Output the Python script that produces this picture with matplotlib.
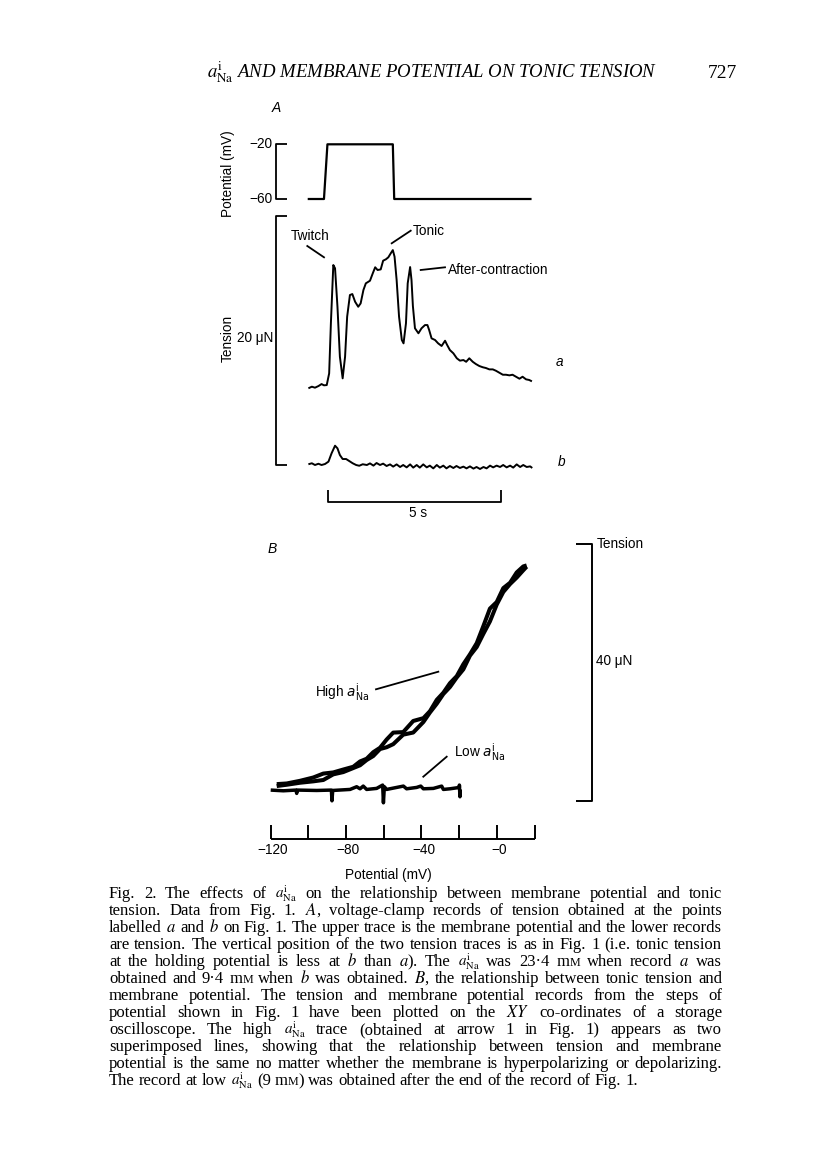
import matplotlib
matplotlib.use("Agg")
import matplotlib.pyplot as plt
from matplotlib.lines import Line2D

# ---------------- data ----------------
# Panel A: membrane potential step (time in s, potential in mV)
pot_time = [0.0, 0.47, 0.57, 2.46, 2.50, 6.47]
pot_mv = [-60, -60, -20, -20, -60, -60]

# Panel A: tension record a (time in s, tension in uN)
ta_time = [0.02, 0.12, 0.21, 0.31, 0.40, 0.47, 0.55, 0.62, 0.67, 0.74,
           0.79, 0.86, 0.93, 1.01, 1.08, 1.14, 1.22, 1.29, 1.37, 1.46,
           1.53, 1.61, 1.68, 1.80, 1.88, 1.95, 2.02, 2.11, 2.18, 2.26,
           2.33, 2.40, 2.46, 2.51, 2.57, 2.64, 2.72, 2.77, 2.84, 2.89,
           2.96, 3.00, 3.04, 3.10, 3.20, 3.29, 3.39, 3.46, 3.51, 3.58,
           3.68, 3.77, 3.87, 3.97, 4.03, 4.11, 4.21, 4.31, 4.40, 4.50,
           4.58, 4.67, 4.77, 4.86, 4.96, 5.06, 5.15, 5.25, 5.35, 5.44,
           5.54, 5.64, 5.73, 5.83, 5.92, 6.02, 6.12, 6.21, 6.31, 6.40,
           6.48]
ta_uN = [6.16, 6.29, 6.21, 6.34, 6.50, 6.40, 6.42, 7.36, 11.38, 16.06,
         15.80, 12.71, 8.70, 6.96, 8.70, 11.91, 13.65, 13.73, 13.11, 12.71,
         12.98, 14.05, 14.59, 14.80, 15.39, 15.88, 15.66, 15.71, 16.41, 16.52,
         16.68, 17.00, 17.26, 16.73, 14.86, 11.91, 10.04, 9.77, 11.38, 14.59,
         15.90, 14.86, 12.77, 10.98, 10.58, 10.98, 11.24, 11.24, 10.84, 10.17,
         10.04, 9.77, 9.56, 9.98, 9.64, 9.23, 8.97, 8.57, 8.38, 8.43,
         8.29, 8.57, 8.29, 8.11, 7.95, 7.85, 7.79, 7.68, 7.68, 7.57,
         7.41, 7.25, 7.25, 7.20, 7.25, 7.09, 6.93, 7.09, 6.88, 6.83,
         6.72]

# Panel A: tension record b
tb_time = [0.02, 0.12, 0.21, 0.31, 0.40, 0.50, 0.60, 0.69, 0.79, 0.86,
           0.93, 1.01, 1.11, 1.20, 1.30, 1.40, 1.49, 1.59, 1.71, 1.80,
           1.90, 1.99, 2.09, 2.18, 2.28, 2.38, 2.47, 2.57, 2.67, 2.76,
           2.86, 2.96, 3.05, 3.15, 3.24, 3.34, 3.44, 3.53, 3.63, 3.73,
           3.82, 3.92, 4.01, 4.11, 4.21, 4.30, 4.40, 4.50, 4.59, 4.69,
           4.79, 4.88, 4.98, 5.08, 5.17, 5.27, 5.36, 5.46, 5.56, 5.65,
           5.75, 5.85, 5.94, 6.04, 6.14, 6.23, 6.33, 6.43, 6.49]
tb_uN = [0.06, 0.14, 0.00, 0.10, 0.00, 0.08, 0.27, 0.94, 1.55, 1.34,
         0.80, 0.48, 0.48, 0.32, 0.14, 0.00, -0.06, 0.06, 0.00, 0.13,
         -0.05, 0.16, 0.00, 0.11, -0.08, 0.05, -0.13, 0.05, -0.16, 0.00,
         -0.19, 0.05, -0.21, 0.00, -0.21, 0.05, -0.19, -0.05, -0.27, 0.00,
         -0.21, -0.05, -0.27, -0.08, -0.24, -0.08, -0.24, -0.13, -0.27, -0.11,
         -0.29, -0.16, -0.32, -0.16, -0.27, -0.05, -0.19, -0.05, -0.16, 0.00,
         -0.19, -0.05, -0.21, 0.05, -0.16, 0.00, -0.16, -0.11, -0.24]

# Panel B: high a_Na, the two superimposed sweeps (potential mV, tension uN)
high_mv = [-116.8, -111.5, -104.5, -97.4, -92.1, -86.8, -81.5, -76.2, -72.6, -69.1,
           -65.6, -62.0, -58.5, -55.0, -49.7, -44.4, -39.0, -35.5, -31.9, -28.4,
           -24.9, -21.3, -17.8, -14.3, -10.7, -7.2, -3.7, -0.1, 3.4, 7.0,
           10.5, 14.0, 15.8]
high_dep_uN = [2.60, 2.70, 3.11, 3.63, 4.24, 4.42, 4.87, 5.30, 6.13, 6.55,
               7.57, 8.26, 9.54, 10.62, 10.70, 12.43, 12.87, 13.96, 15.72, 16.83,
               18.32, 19.41, 21.27, 22.80, 24.55, 27.19, 29.93, 30.95, 33.12, 33.96,
               35.56, 36.50, 36.66]
high_hyp_uN = [2.30, 2.50, 2.81, 3.03, 3.24, 4.12, 4.47, 5.10, 5.53, 6.35,
               6.97, 8.06, 8.34, 8.82, 10.30, 10.63, 12.27, 13.76, 15.12, 16.63,
               17.72, 19.21, 20.47, 22.60, 23.95, 25.99, 27.93, 30.55, 32.52, 33.76,
               34.76, 35.90, 36.46]

# Panel B: low a_Na
low_mv = [-120.0, -113.3, -106.6, -106.2, -105.9, -95.6, -87.8, -87.5, -87.1, -77.9,
          -74.4, -72.6, -70.9, -69.1, -63.8, -60.6, -60.2, -59.7, -58.5, -53.2,
          -49.6, -47.9, -42.6, -40.4, -39.0, -33.7, -29.3, -28.4, -24.9, -19.9,
          -19.9, -19.6, -19.6]
low_uN = [1.67, 1.56, 1.67, 1.15, 1.67, 1.61, 1.67, 0.00, 1.61, 1.77,
          2.19, 1.87, 2.29, 1.77, 1.93, 2.45, -0.31, 2.19, 1.77, 2.08,
          2.29, 1.87, 2.08, 2.29, 1.87, 1.93, 2.29, 1.77, 1.87, 2.08,
          2.45, 0.63, 1.77]

pot_ticks = [-120, -100, -80, -60, -40, -20, 0, 20]
pot_ticklabels = ["\u2212120", "", "\u221280", "", "\u221240", "", "\u22120", ""]

# scale bars (values)
potA_bar = [-60, -20]      # mV
tensA_bar = [0, 20]        # uN
time_bar = [0.59, 5.59]    # s  (5 s)
tensB_bar = [0, 40]        # uN

caption_lines = [
    r"Fig. 2. The effects of $a^{\mathrm{i}}_{\mathrm{Na}}$ on the relationship between membrane potential and tonic",
    r"tension. Data from Fig. 1. $\mathit{A}$, voltage-clamp records of tension obtained at the points",
    r"labelled $\mathit{a}$ and $\mathit{b}$ on Fig. 1. The upper trace is the membrane potential and the lower records",
    r"are tension. The vertical position of the two tension traces is as in Fig. 1 (i.e. tonic tension",
    r"at the holding potential is less at $\mathit{b}$ than $\mathit{a}$). The $a^{\mathrm{i}}_{\mathrm{Na}}$ was 23·4 mM when record $\mathit{a}$ was",
    r"obtained and 9·4 mM when $\mathit{b}$ was obtained. $\mathit{B}$, the relationship between tonic tension and",
    r"membrane potential. The tension and membrane potential records from the steps of",
    r"potential shown in Fig. 1 have been plotted on the $\mathit{XY}$ co-ordinates of a storage",
    r"oscilloscope. The high $a^{\mathrm{i}}_{\mathrm{Na}}$ trace (obtained at arrow 1 in Fig. 1) appears as two",
    r"superimposed lines, showing that the relationship between tension and membrane",
    r"potential is the same no matter whether the membrane is hyperpolarizing or depolarizing.",
    r"The record at low $a^{\mathrm{i}}_{\mathrm{Na}}$ (9 mM) was obtained after the end of the record of Fig. 1.",
]

# ---------------- layout helpers ----------------
W, H = 816, 1160
fig = plt.figure(figsize=(W / 100, H / 100), dpi=100)
fig.patch.set_facecolor("white")
SANS = "Liberation Sans"
SERIF = "Liberation Serif"
LFS = 9.8


def fx(x):
    return x / W


def fy(y):
    return 1 - y / H


def add_ax(left, top, right, bottom, xlim, ylim):
    ax = fig.add_axes([left / W, 1 - bottom / H, (right - left) / W, (bottom - top) / H])
    ax.set_xlim(*xlim)
    ax.set_ylim(*ylim)
    ax.axis("off")
    ax.patch.set_alpha(0)
    return ax


def ftext(x, y, s, **kw):
    kw.setdefault("family", SANS)
    kw.setdefault("fontsize", LFS)
    kw.setdefault("math_fontfamily", "dejavusans")
    return fig.text(fx(x), fy(y), s, **kw)


def fline(x1, y1, x2, y2, lw=1.3):
    fig.add_artist(Line2D([fx(x1), fx(x2)], [fy(y1), fy(y2)], transform=fig.transFigure,
                          color="black", lw=lw))


K = dict(color="black", clip_on=False, solid_joinstyle="round", solid_capstyle="butt")

# ---------------- Panel A ----------------
axV = add_ax(200, 115, 600, 215, (-3.113, 8.448), (-71.7, 1.43))
axT = add_ax(200, 210, 600, 530, (-3.113, 8.448), (-5.22, 20.48))

axV.plot(pot_time, pot_mv, lw=1.6, **K)
axT.plot(ta_time, ta_uN, lw=1.4, **K)
axT.plot(tb_time, tb_uN, lw=1.4, **K)

bar_t, tick_t = -0.916, -0.607
axV.plot([tick_t, bar_t, bar_t, tick_t], [potA_bar[1], potA_bar[1], potA_bar[0], potA_bar[0]], lw=1.3, **K)
axT.plot([tick_t, bar_t, bar_t, tick_t], [tensA_bar[1], tensA_bar[1], tensA_bar[0], tensA_bar[0]], lw=1.3, **K)
axT.plot([time_bar[0], time_bar[0], time_bar[1], time_bar[1]], [-2.0, -2.95, -2.95, -2.0], lw=1.3, **K)

ftext(276, 108, "A", style="italic", ha="center", va="center", fontsize=10)
ftext(228, 174, "Potential (mV)", rotation=90, ha="center", va="center")
axV.text(bar_t - 0.1, potA_bar[1], "\u221220", ha="right", va="center", family=SANS, fontsize=LFS)
axV.text(bar_t - 0.1, potA_bar[0], "\u221260", ha="right", va="center", family=SANS, fontsize=LFS)
ftext(228, 338, "Tension", rotation=90, ha="center", va="center")
ftext(273, 338, "20 \u03bcN", ha="right", va="center")
ftext(310, 236, "Twitch", ha="center", va="center")
fline(307.3, 246, 324, 257.3)
ftext(413, 231, "Tonic", ha="left", va="center")
fline(391.7, 243.3, 410.7, 230.7)
ftext(448, 269.5, "After-contraction", ha="left", va="center")
fline(420.7, 270, 445, 267.3)
ftext(560, 362, "a", style="italic", ha="center", va="center")
ftext(562, 462, "b", style="italic", ha="center", va="center")
ftext(418, 513, "5 s", ha="center", va="center")

# ---------------- Panel B ----------------
axB = add_ax(250, 530, 620, 890, (-130.98, 65.31), (-13.89, 42.17))
axB.plot(high_mv, high_dep_uN, lw=2.9, **K)
axB.plot(high_mv, high_hyp_uN, lw=2.9, **K)
axB.plot(low_mv, low_uN, lw=2.5, **K)

# potential axis drawn as a scale with ticks
base_T, tick_T = -6.01, -3.79
axB.plot([pot_ticks[0], pot_ticks[-1]], [base_T, base_T], lw=1.4, **K)
for v, lab in zip(pot_ticks, pot_ticklabels):
    axB.plot([v, v], [base_T, tick_T], lw=1.4, **K)
    if lab:
        axB.text(v + 1.0, -7.6, lab, ha="center", va="center", family=SANS, fontsize=LFS)
ftext(388, 875, "Potential (mV)", ha="center", va="center")

# tension scale bar
bx, btick = 50.3, 42.0
axB.plot([btick, bx, bx, btick], [tensB_bar[1], tensB_bar[1], tensB_bar[0], tensB_bar[0]], lw=1.4, **K)
ftext(597, 544, "Tension", ha="left", va="center")
ftext(596, 661, "40 \u03bcN", ha="left", va="center")

ftext(272, 549, "B", style="italic", ha="center", va="center", fontsize=10)
ftext(369, 697, r"High $a^{\mathrm{i}}_{\mathrm{Na}}$", ha="right", va="baseline")
fline(376, 689.3, 438.3, 671.7)
ftext(454, 757, r"Low $a^{\mathrm{i}}_{\mathrm{Na}}$", ha="left", va="baseline")
fline(423.3, 776.7, 446.7, 756.7)

# ---------------- header ----------------
ftext(657, 78, r"$a^{\mathrm{i}}_{\mathrm{Na}}$ AND MEMBRANE POTENTIAL ON TONIC TENSION",
      family=SERIF, style="italic", fontsize=13.5, ha="right", va="baseline", math_fontfamily="stix")
ftext(737, 78, "727", family=SERIF, fontsize=14, ha="right", va="baseline")

# ---------------- caption (justified) ----------------
renderer = fig.canvas.get_renderer()
X0, X1 = 109, 722
Y0, DY = 898, 17.0


def pieces_of(tok):
    if tok.startswith("mM"):
        return [("m", 1.0), ("M", 0.72)] + ([(tok[2:], 1.0)] if tok[2:] else [])
    if "Na" in tok:
        return [(tok, 0.9)]
    return [(tok, 1.0)]


def natural_width(line, fs):
    tot = 0
    toks = line.split(" ")
    for tok in toks:
        for s, sc in pieces_of(tok):
            t = fig.text(0, 0, s, family=SERIF, fontsize=fs * sc, math_fontfamily="stix")
            tot += t.get_window_extent(renderer).width
            t.remove()
    return tot + (len(toks) - 1) * 0.25 * fs * 100 / 72


# choose the caption size so that the tightest line just fits the measure
ref_fs = 10.0
widest = max(natural_width(l, ref_fs) for l in caption_lines[:-1])
CAP_FS = ref_fs * (X1 - X0) / widest * 0.995

for i, line in enumerate(caption_lines):
    y = Y0 + i * DY
    words = []
    for tok in line.split(" "):
        objs = []
        for s, sc in pieces_of(tok):
            t = fig.text(0, fy(y), s, family=SERIF, fontsize=CAP_FS * sc, ha="left",
                         va="baseline", math_fontfamily="stix")
            w = t.get_window_extent(renderer).width
            objs.append((t, w))
        words.append(objs)
    total = sum(w for objs in words for _, w in objs)
    if i < len(caption_lines) - 1:
        gap = (X1 - X0 - total) / (len(words) - 1)
    else:
        gap = 0.25 * CAP_FS * 100 / 72
    x = X0
    for objs in words:
        for t, w in objs:
            t.set_x(fx(x))
            x += w
        x += gap

fig.savefig("out.png", dpi=100, facecolor="white")
